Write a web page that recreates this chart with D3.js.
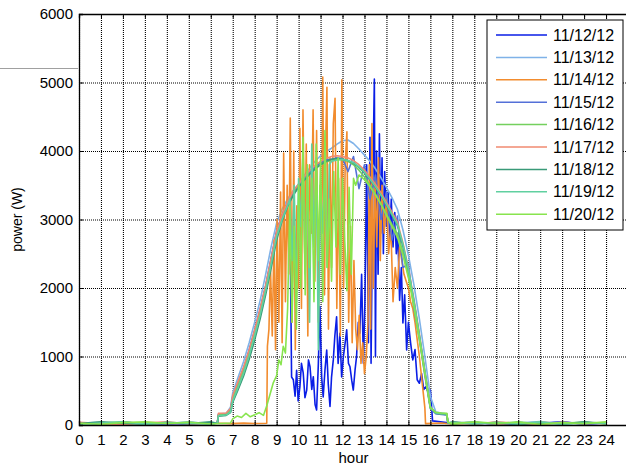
<!DOCTYPE html>
<html>
<head>
<meta charset="utf-8">
<script src="https://cdn.jsdelivr.net/npm/d3@7"></script>
<style>
  body { margin: 0; background: #fff; }
  svg { display: block; font-family: "Liberation Sans", Arial, Helvetica, sans-serif; }
</style>
</head>
<body>
<svg id="chart"></svg>
<script>
//data
var dayLabels = ["11/12/12", "11/13/12", "11/14/12", "11/15/12", "11/16/12",
                 "11/17/12", "11/18/12", "11/19/12", "11/20/12"];
var dayColors = ["#0a1ee6", "#7fb2e8", "#f28c2e", "#5470d8", "#74d05e",
                 "#f08a70", "#3a9a78", "#60d0a0", "#88e44e"];
var hourTicks = [0, 1, 2, 3, 4, 5, 6, 7, 8, 9, 10, 11, 12, 13, 14, 15, 16, 17, 18, 19, 20, 21, 22, 23, 24];
var powerTicks = [0, 1000, 2000, 3000, 4000, 5000, 6000];

// sample hours shared by the clear days
var clearHours = [0, 1, 2, 3, 4, 5, 6, 6.3, 6.35, 6.7, 6.9,
  7, 7.25, 7.5, 7.75, 8, 8.25, 8.5, 8.75, 9, 9.25, 9.5, 9.75, 10, 10.25, 10.5, 10.75,
  11, 11.25, 11.5, 11.75, 12, 12.25, 12.5, 12.75, 13, 13.25, 13.5, 13.75, 14, 14.25, 14.5, 14.75,
  15, 15.25, 15.5, 15.75, 16, 16.25, 16.5, 16.75, 16.8, 17, 18, 19, 20, 21, 22, 23, 24];

var w1113 = [25, 40, 12, 35, 20, 45, 15,
  30, 160, 170, 260, 470, 700, 930, 1200, 1500, 1820, 2200, 2600, 2950, 3150, 3300, 3420,
  3520, 3640, 3750, 3850, 3930, 3990, 4040, 4100, 4150, 4160, 4110, 4030, 3940, 3850, 3740, 3610,
  3470, 3320, 3150, 2850, 2480, 2050, 1550, 1000, 420, 190, 175, 160, 35,
  20, 45, 10, 30, 50, 15, 35, 25];
var w1115 = [35, 10, 40, 20, 30, 5, 38,
  25, 140, 150, 200, 400, 610, 810, 1060, 1350, 1660, 2000, 2400, 2800, 3050, 3240, 3390,
  3500, 3600, 3690, 3770, 3830, 3870, 3880, 3900, 3890, 3700, 3920, 3450, 3800, 3300, 3650, 3000,
  3400, 2700, 3050, 2300, 2350, 1700, 1250, 720, 240, 165, 155, 145, 25,
  40, 15, 30, 5, 25, 45, 10, 30];
var w1116 = [15, 30, 45, 10, 25, 40, 20,
  30, 145, 155, 210, 390, 590, 800, 1050, 1340, 1650, 1990, 2380, 2770, 3020, 3210, 3360,
  3480, 3580, 3660, 3740, 3800, 3840, 3870, 3880, 3870, 3850, 3800, 3720, 3620, 3500, 3370, 3230,
  3080, 2930, 2790, 2520, 2180, 1760, 1270, 760, 250, 180, 170, 165, 35,
  10, 35, 20, 45, 15, 30, 40, 20];
var w1117 = [40, 20, 5, 30, 45, 15, 25,
  35, 170, 175, 240, 430, 640, 850, 1100, 1390, 1700, 2040, 2440, 2830, 3070, 3260, 3410,
  3520, 3620, 3710, 3790, 3850, 3890, 3920, 3930, 3920, 3900, 3860, 3800, 3720, 3620, 3510, 3390,
  3250, 3110, 2960, 2660, 2290, 1840, 1330, 790, 270, 175, 165, 155, 30,
  30, 10, 45, 25, 5, 40, 20, 35];
var w1118 = [20, 45, 25, 10, 35, 20, 45,
  25, 130, 140, 180, 330, 520, 720, 960, 1240, 1550, 1900, 2290, 2700, 2980, 3190, 3350,
  3470, 3570, 3660, 3740, 3800, 3850, 3880, 3890, 3880, 3860, 3820, 3760, 3680, 3580, 3470, 3350,
  3210, 3060, 2910, 2610, 2250, 1800, 1300, 770, 260, 170, 160, 150, 30,
  45, 20, 35, 10, 30, 15, 45, 20];

// cloudy days: [hour, watts]
var p1112 = [[0,30],[1,15],[2,40],[3,25],[4,10],[5,35],[6,20],[6.3,30],[6.35,150],[6.7,160],[6.9,215],
  [7,410],[7.25,620],[7.5,830],[7.75,1090],[8,1380],[8.25,1690],[8.5,2030],[8.75,2430],[9,2830],[9.25,3070],[9.5,3260],
  [9.6,3320],[9.68,700],[9.76,660],[9.84,420],[9.91,800],[9.98,350],[10.06,560],[10.13,900],[10.21,760],[10.29,400],
  [10.37,510],[10.45,950],[10.52,850],[10.6,520],[10.67,705],[10.75,300],[10.82,220],[10.9,900],[10.97,1730],[11.05,700],
  [11.12,410],[11.2,800],[11.28,1095],[11.35,600],[11.43,270],[11.5,700],[11.58,950],[11.65,1300],[11.73,1580],[11.8,900],
  [11.88,1340],[11.96,700],[12.04,1000],[12.12,1200],[12.19,1390],[12.27,900],[12.34,850],[12.42,650],[12.49,510],[12.57,800],
  [12.64,1000],[12.72,1500],[12.79,1340],[12.87,2200],[12.95,900],[13.02,1800],[13.1,3800],[13.18,1200],[13.25,4200],[13.3,900],
  [13.38,3600],[13.45,5050],[13.5,1000],[13.55,4000],[13.62,2200],[13.68,4250],[13.74,2800],[13.8,3900],[13.86,2500],[13.92,3700],
  [14,2900],[14.08,3400],[14.15,2700],[14.22,3300],[14.3,2600],[14.38,3100],[14.45,2500],[14.52,2800],[14.6,1820],[14.68,2300],
  [14.75,1490],[14.83,1900],[14.92,1095],[15,1500],[15.1,1200],[15.2,950],[15.3,1100],[15.4,660],[15.5,610],[15.6,750],
  [15.7,520],[15.8,560],[15.9,480],[16,510],[16.05,300],[16.1,60],
  [17,25],[18,40],[19,10],[20,35],[21,20],[22,45],[23,15],[24,30]];
var p1114 = [[0,20],[1,35],[2,10],[3,40],[4,25],[5,15],[6,30],[6.9,20],[7.5,28],[8,22],[8.55,25],
  [8.58,1150],[8.65,1400],[8.72,2300],[8.8,1300],[8.88,2700],[8.95,1100],[9.02,3000],[9.1,1500],[9.18,3400],[9.25,1200],
  [9.32,3970],[9.4,1800],[9.48,3500],[9.55,2200],[9.62,4480],[9.7,1500],[9.78,4000],[9.85,1100],[9.92,3200],[10,2000],
  [10.06,4330],[10.13,1700],[10.2,4600],[10.28,2500],[10.35,4100],[10.42,1300],[10.5,3800],[10.58,2800],[10.66,4600],[10.74,2100],
  [10.82,4300],[10.9,1500],[10.98,3500],[11.05,2600],[11.1,5080],[11.18,1900],[11.24,4200],[11.29,4930],[11.36,1400],[11.43,3900],
  [11.5,2300],[11.58,4400],[11.66,4770],[11.74,1700],[11.82,3600],[11.9,1300],[11.97,5040],[12.05,2000],[12.12,3800],[12.2,4280],
  [12.28,1500],[12.36,2900],[12.44,1200],[12.52,2400],[12.6,1400],[12.68,1100],[12.76,1600],[12.84,900],[12.92,1200],[13,750],
  [13.08,1000],[13.16,1500],[13.22,3800],[13.28,1400],[13.34,4400],[13.4,2000],[13.48,3600],[13.56,2600],[13.64,3900],[13.72,2400],
  [13.8,3500],[13.9,2800],[14,3300],[14.1,2500],[14.2,2900],[14.3,1800],[14.4,2300],[14.5,2000],[14.6,2600],[14.7,2400],
  [14.8,2200],[14.9,2100],[15,2000],[15.1,1800],[15.2,1700],[15.3,1500],[15.4,1250],[15.5,1000],[15.6,700],[15.7,400],
  [15.75,250],[15.78,20],[16.5,30],[17,15],[18,35],[19,20],[20,10],[21,40],[22,25],[23,35],[24,20]];
var p1119 = [[0,10],[1,30],[2,45],[3,15],[4,40],[5,25],[6,10],[6.3,28],[6.35,135],[6.7,145],[6.9,190],
  [7,350],[7.25,550],[7.5,760],[7.75,1010],[8,1300],[8.25,1610],[8.5,1960],[8.75,2350],[9,2750],[9.25,3000],[9.5,3200],
  [9.6,3300],[9.7,2400],[9.8,3500],[9.9,1800],[10,3600],[10.1,2900],[10.2,4000],[10.3,2200],[10.4,3700],[10.5,1500],
  [10.6,4100],[10.7,2600],[10.8,3900],[10.9,1100],[11,3500],[11.1,2800],[11.2,3900],[11.3,2300],[11.4,3800],[11.5,3850],
  [11.75,3870],[12,3880],[12.25,3860],[12.5,3830],[12.75,3770],[13,3690],[13.25,3590],[13.5,3480],[13.75,3360],[14,3220],
  [14.25,3080],[14.5,2930],[14.75,2640],[15,2270],[15.25,1820],[15.5,1310],[15.75,780],[16,265],[16.25,175],[16.5,165],
  [16.75,160],[16.8,30],[17,35],[18,15],[19,40],[20,20],[21,45],[22,10],[23,30],[24,25]];
var p1120 = [[0,25],[1,10],[2,35],[3,45],[4,20],[5,40],[6,15],[6.9,30],[7,90],[7.2,130],[7.4,110],[7.6,170],
  [7.8,120],[8,150],[8.2,180],[8.4,140],[8.55,280],[8.7,450],[8.85,620],[9,720],[9.1,950],[9.2,880],[9.3,1150],[9.4,1050],
  [9.5,1700],[9.6,3200],[9.7,1500],[9.8,2900],[9.9,1400],[10,3500],[10.1,2000],[10.2,4200],[10.3,1900],[10.4,3800],
  [10.5,2300],[10.6,3600],[10.7,1800],[10.8,4100],[10.9,2400],[11,3900],[11.1,1800],[11.2,4300],[11.3,2300],[11.4,3300],
  [11.5,2100],[11.6,3700],[11.7,2600],[11.8,3900],[11.9,2200],[12,3600],[12.1,2700],[12.2,1960],[12.3,3470],[12.4,2200],
  [12.5,3600],[12.6,3500],[12.75,3650],[13,3580],[13.25,3480],[13.5,3360],[13.75,3220],[14,3060],[14.25,2900],[14.5,2740],
  [14.75,2480],[15,2150],[15.25,1730],[15.5,1250],[15.75,740],[16,250],[16.25,185],[16.5,175],[16.75,170],[16.8,40],
  [17,20],[18,45],[19,25],[20,40],[21,10],[22,35],[23,20],[24,45]];


//layout conf.
var svgWidth = 626,
    svgHeight = 466,
    plot = {left: 79, top: 14, right: 628, bottom: 425};

var svg = d3.select("#chart").attr("width", svgWidth).attr("height", svgHeight);

var x = d3.scaleLinear().domain([0, 25]).range([plot.left, plot.right]);
var y = d3.scaleLinear().domain([0, 6000]).range([plot.bottom, plot.top]);

function zipClear(values) {
    return clearHours.map(function(h, i) { return [h, values[i]]; });
}

var series = [p1112, zipClear(w1113), p1114, zipClear(w1115), zipClear(w1116),
              zipClear(w1117), zipClear(w1118), p1119, p1120];

// stray line left of the axes
svg.append("line")
    .attr("x1", 0).attr("x2", plot.left - 1)
    .attr("y1", 68.5).attr("y2", 68.5)
    .attr("stroke", "#a0a0a0").attr("stroke-width", 1.2);

// grid
var gridX = svg.append("g")
    .attr("transform", "translate(0," + plot.bottom + ")")
    .call(d3.axisBottom(x).tickValues(hourTicks).tickSize(-(plot.bottom - plot.top)).tickFormat(""));
var gridY = svg.append("g")
    .attr("transform", "translate(" + plot.left + ",0)")
    .call(d3.axisLeft(y).tickValues(powerTicks).tickSize(-(plot.right - plot.left)).tickFormat(""));
[gridX, gridY].forEach(function(g) {
    g.select(".domain").remove();
    g.selectAll("line").attr("stroke", "#000").attr("stroke-width", 1.1).attr("stroke-dasharray", "1,1");
});

// lines
svg.append("clipPath").attr("id", "clip")
    .append("rect")
    .attr("x", plot.left).attr("y", plot.top)
    .attr("width", plot.right - plot.left).attr("height", plot.bottom - plot.top);

var line = d3.line()
    .x(function(d) { return x(d[0]); })
    .y(function(d) { return y(d[1]); });

svg.append("g")
    .attr("clip-path", "url(#clip)")
    .selectAll("path")
    .data(series)
    .enter()
    .append("path")
    .attr("fill", "none")
    .attr("stroke", function(d, i) { return dayColors[i]; })
    .attr("stroke-width", 1.6)
    .attr("stroke-linejoin", "round")
    .attr("d", line);

// axes
var xAxis = svg.append("g")
    .attr("transform", "translate(0," + plot.bottom + ")")
    .call(d3.axisBottom(x).tickValues(hourTicks).tickSize(-4).tickPadding(9).tickFormat(d3.format("d")));
var xAxisTop = svg.append("g")
    .attr("transform", "translate(0," + plot.top + ")")
    .call(d3.axisTop(x).tickValues(hourTicks).tickSize(-4).tickFormat(""));
var yAxis = svg.append("g")
    .attr("transform", "translate(" + plot.left + ",0)")
    .call(d3.axisLeft(y).tickValues(powerTicks).tickSize(-4).tickPadding(6).tickFormat(d3.format("d")));

[xAxis, xAxisTop, yAxis].forEach(function(g) {
    g.select(".domain").attr("stroke", "#000").attr("stroke-width", 1.3);
    g.selectAll("line").attr("stroke", "#000");
    g.selectAll("text").attr("fill", "#000").style("font-size", "15px")
        .style("font-family", "'Liberation Sans', Arial, sans-serif");
});

svg.append("text")
    .attr("x", x(12.5)).attr("y", 463)
    .attr("text-anchor", "middle")
    .style("font-size", "15px")
    .text("hour");

svg.append("text")
    .attr("transform", "translate(22," + ((plot.top + plot.bottom) / 2) + ") rotate(-90)")
    .attr("text-anchor", "middle")
    .style("font-size", "14px")
    .text("power (W)");

// legend
var legend = svg.append("g").attr("transform", "translate(487,20)");
legend.append("rect")
    .attr("width", 136).attr("height", 210)
    .attr("fill", "#fff").attr("stroke", "#000").attr("stroke-width", 1);

var items = legend.selectAll(".item")
    .data(dayLabels)
    .enter()
    .append("g")
    .attr("transform", function(d, i) { return "translate(0," + (15 + i * 22.4) + ")"; });
items.append("line")
    .attr("x1", 9).attr("x2", 60)
    .attr("stroke", function(d, i) { return dayColors[i]; })
    .attr("stroke-width", 1.5);
items.append("text")
    .attr("x", 66).attr("y", 5.5)
    .style("font-size", "16px")
    .text(function(d) { return d; });
</script>
</body>
</html>
